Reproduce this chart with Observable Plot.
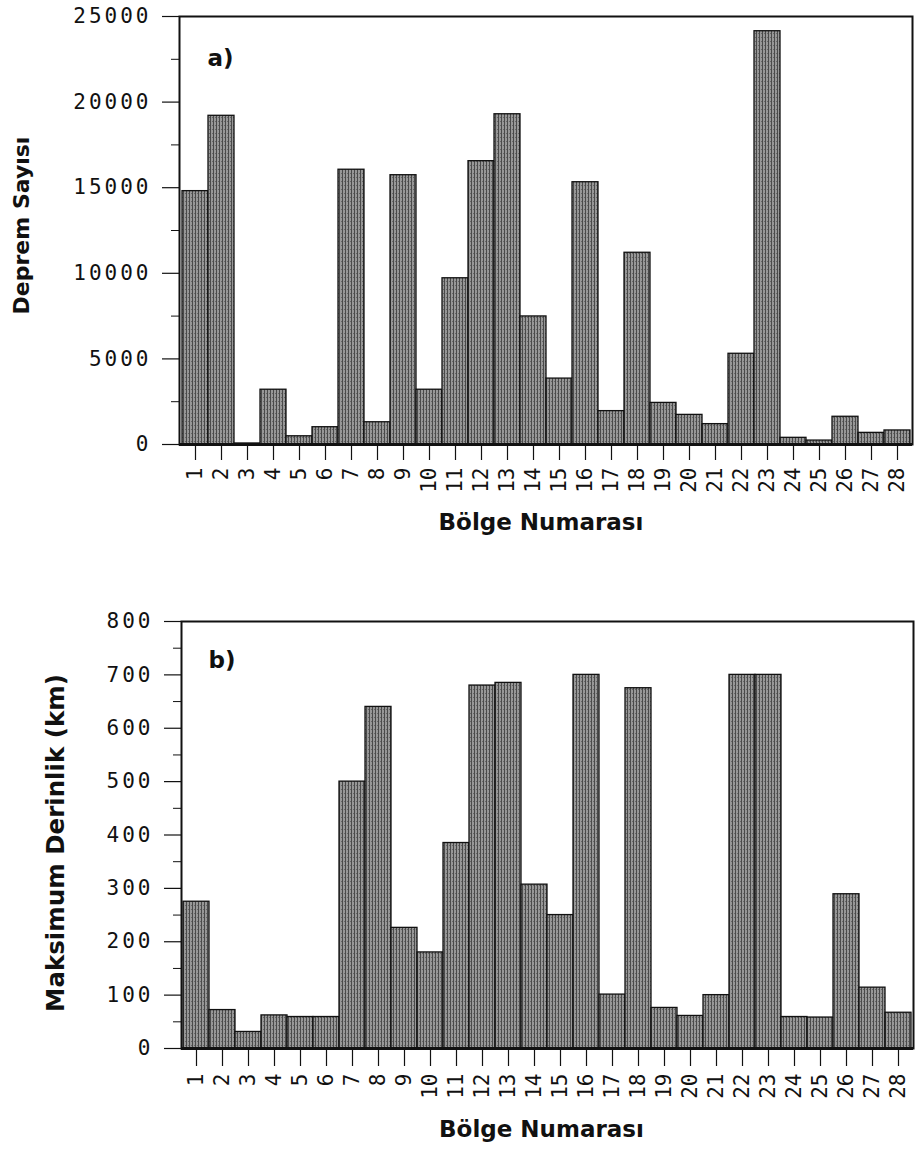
<!DOCTYPE html>
<html>
<head>
<meta charset="utf-8">
<script src="https://cdn.jsdelivr.net/npm/d3@7"></script>
<script src="https://cdn.jsdelivr.net/npm/@observablehq/plot@0.6"></script>
<style>
  html, body { margin: 0; padding: 0; background: #fff; }
  body { width: 915px; height: 1154px; position: relative; overflow: hidden; }
  #a { position: absolute; left: 0; top: 0; }
  #b { position: absolute; left: 0; top: 600px; }
  g[aria-label="y-axis tick label"] text { letter-spacing: 3px; }
</style>
</head>
<body>
<div id="a"></div>
<div id="b"></div>
<script>
// Region numbers (Bölge Numarası)
const regions = [1,2,3,4,5,6,7,8,9,10,11,12,13,14,15,16,17,18,19,20,21,22,23,24,25,26,27,28];

// a) Earthquake counts (Deprem Sayısı)
const depremSayisi = [14800, 19200, 60, 3200, 480, 1010, 16050, 1300, 15730, 3200,
                      9710, 16550, 19290, 7480, 3850, 15320, 1950, 11200, 2430, 1730,
                      1190, 5300, 24140, 390, 230, 1620, 680, 820];

// b) Maximum depth in km (Maksimum Derinlik)
const maksDerinlik = [275, 72, 31, 62, 59, 59, 500, 640, 226, 180,
                      385, 680, 685, 307, 250, 700, 101, 675, 76, 61,
                      100, 700, 700, 59, 58, 289, 114, 67];

// Tick values
const yTicksA = [0, 5000, 10000, 15000, 20000, 25000];
const yMinorA = [2500, 7500, 12500, 17500, 22500];
const yTicksB = [0, 100, 200, 300, 400, 500, 600, 700, 800];
const yMinorB = [50, 150, 250, 350, 450, 550, 650, 750];

const xTitle = "Bölge Numarası";
const yTitleA = "Deprem Sayısı";
const yTitleB = "Maksimum Derinlik (km)";

const dataA = regions.map((r, i) => ({bolge: r, value: depremSayisi[i]}));
const dataB = regions.map((r, i) => ({bolge: r, value: maksDerinlik[i]}));

function addPattern(svg, id) {
  const defs = d3.select(svg).insert("defs", ":first-child");
  const p = defs.append("pattern")
    .attr("id", id).attr("patternUnits", "userSpaceOnUse")
    .attr("width", 3).attr("height", 4);
  p.append("rect").attr("width", 3).attr("height", 4).attr("fill", "#979797");
  p.append("rect").attr("width", 1).attr("height", 4).attr("fill", "#4a4a4a");
  p.append("rect").attr("x", 2).attr("y", 1).attr("width", 1).attr("height", 1).attr("fill", "#666");
  d3.select(svg).selectAll('g[aria-label="bar"] rect').attr("fill", `url(#${id})`);
}

function panel({data, yMax, ticks, minor, tag, yTitle, height, mTop, mBottom, mLeft, mRight,
                xTickSize, xTickPad, xTitleDy, xTitleDx, yTitleDx, yTitleDy, yTitleSize, tagDx, tagDy}) {
  return Plot.plot({
    width: 915,
    height,
    marginTop: mTop,
    marginBottom: mBottom,
    marginLeft: mLeft,
    marginRight: mRight,
    style: {background: "transparent", color: "#111", overflow: "visible"},
    x: {type: "band", domain: regions, padding: 0, label: null},
    y: {domain: [0, yMax], label: null},
    marks: [
      Plot.barY(data, {x: "bolge", y: "value", fill: "#7e7e7e", stroke: "#111", strokeWidth: 1.3}),
      Plot.frame({stroke: "#111", strokeWidth: 2}),
      Plot.ruleY([0], {stroke: "#111", strokeWidth: 3}),
      Plot.axisY(ticks, {tickSize: 17, tickPadding: 11, fontSize: 21, fontFamily: "DejaVu Sans Mono",
                         tickFormat: d3.format("d"), label: null, strokeWidth: 1.2}),
      Plot.axisY(minor, {tickSize: 8, tickFormat: () => "", label: null, strokeWidth: 1}),
      Plot.axisX({tickSize: xTickSize, tickPadding: xTickPad, tickRotate: -90, fontSize: 21,
                  fontFamily: "DejaVu Sans Mono", label: null, strokeWidth: 1.2}),
      Plot.text([xTitle], {frameAnchor: "bottom", dy: xTitleDy, dx: xTitleDx, fontSize: 23,
                           fontWeight: "bold", fontFamily: "DejaVu Sans", fill: "#111"}),
      Plot.text([yTitle], {frameAnchor: "left", textAnchor: "middle", rotate: -90, dx: yTitleDx, dy: yTitleDy,
                           fontSize: yTitleSize, fontWeight: "bold", fontFamily: "DejaVu Sans", fill: "#111"}),
      Plot.text([tag], {frameAnchor: "top-left", textAnchor: "start", dx: tagDx, dy: tagDy,
                        fontSize: 23, fontWeight: "bold", fontFamily: "DejaVu Sans", fill: "#111"})
    ]
  });
}

const svgA = panel({
  data: dataA, yMax: 25000, ticks: yTicksA, minor: yMinorA, tag: "a)", yTitle: yTitleA,
  height: 560, mTop: 16, mBottom: 116, mLeft: 179, mRight: 3,
  xTickSize: 16, xTickPad: 7, xTitleDy: 85, xTitleDx: -5,
  yTitleDx: -158, yTitleDy: -5, yTitleSize: 22, tagDx: 28, tagDy: 33
});
addPattern(svgA, "texA");
document.getElementById("a").append(svgA);

const svgB = panel({
  data: dataB, yMax: 800, ticks: yTicksB, minor: yMinorB, tag: "b)", yTitle: yTitleB,
  height: 554, mTop: 21, mBottom: 106, mLeft: 181, mRight: 2,
  xTickSize: 18, xTickPad: 7, xTitleDy: 88, xTitleDx: -6,
  yTitleDx: -125, yTitleDy: 8, yTitleSize: 24.5, tagDx: 27, tagDy: 30
});
addPattern(svgB, "texB");
document.getElementById("b").append(svgB);
</script>
</body>
</html>
